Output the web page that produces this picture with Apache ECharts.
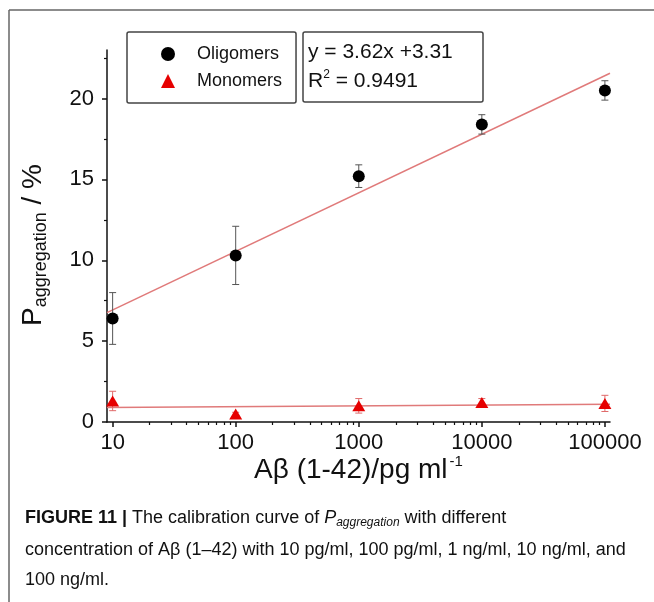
<!DOCTYPE html>
<html>
<head>
<meta charset="utf-8">
<script src="https://cdn.jsdelivr.net/npm/echarts@6/dist/echarts.min.js"></script>
<style>
  html, body { margin: 0; padding: 0; background: #fff; }
  #chart { width: 654px; height: 602px; }
</style>
</head>
<body>
<div id="chart"></div>
<script>
// Aβ (1-42) concentrations in pg/ml
const concentrations = [10, 100, 1000, 10000, 100000];

// P_aggregation (%) with standard deviations
const oligomerMean = [6.4, 10.3, 15.2, 18.4, 20.5];
const oligomerErr  = [1.6, 1.8, 0.7, 0.6, 0.6];
const monomerMean  = [1.3, 0.5, 1.0, 1.2, 1.15];
const monomerErr   = [0.6, 0.1, 0.45, 0.25, 0.5];

// Linear fit of oligomers against log10(concentration)
const fitSlope = 3.62;
const fitIntercept = 3.31;
const fitR2 = '0.9491';
// Monomer trend line, values at the two ends of the axis
const monomerFitEnds = [0.9, 1.1];

// Axis ranges and ticks
const xMin = 9, xMax = 110000;
const yMin = 0, yMax = 23;
const xMajorTicks = [10, 100, 1000, 10000, 100000];
const xMinorTicks = [20, 30, 40, 50, 60, 70, 80, 90,
                     200, 300, 400, 500, 600, 700, 800, 900,
                     2000, 3000, 4000, 5000, 6000, 7000, 8000, 9000,
                     20000, 30000, 40000, 50000, 60000, 70000, 80000, 90000];
const yMajorTicks = [0, 5, 10, 15, 20];
const yMinorTicks = [2.5, 7.5, 12.5, 17.5, 22.5];

const FONT = '"Liberation Sans", Arial, Helvetica, sans-serif';
const INK = '#111';

const chart = echarts.init(document.getElementById('chart'), null, { renderer: 'canvas' });

function errorBars(capHalf, color) {
  return function (params, api) {
    const x = api.value(0);
    const top = api.coord([x, api.value(2)]);
    const bot = api.coord([x, api.value(1)]);
    const st = { stroke: color, lineWidth: 1 };
    return {
      type: 'group',
      children: [
        { type: 'line', shape: { x1: top[0], y1: top[1], x2: bot[0], y2: bot[1] }, style: st },
        { type: 'line', shape: { x1: top[0] - capHalf, y1: top[1], x2: top[0] + capHalf, y2: top[1] }, style: st },
        { type: 'line', shape: { x1: bot[0] - capHalf, y1: bot[1], x2: bot[0] + capHalf, y2: bot[1] }, style: st }
      ]
    };
  };
}

const oligomerPoints = concentrations.map((c, i) => [c, oligomerMean[i]]);
const monomerPoints = concentrations.map((c, i) => [c, monomerMean[i]]);
const oligomerBars = concentrations.map((c, i) => [c, oligomerMean[i] - oligomerErr[i], oligomerMean[i] + oligomerErr[i]]);
const monomerBars = concentrations.map((c, i) => [c, monomerMean[i] - monomerErr[i], monomerMean[i] + monomerErr[i]]);
const oligomerFit = [xMin, xMax].map(c => [c, fitSlope * Math.log10(c) + fitIntercept]);
const monomerFit = [[xMin, monomerFitEnds[0]], [xMax, monomerFitEnds[1]]];

const axisLine = { show: true, onZero: false, lineStyle: { color: INK, width: 1.5 } };

const option = {
  animation: false,
  backgroundColor: '#fff',
  grid: { left: 107, right: 44, top: 50, bottom: 180, outerBoundsMode: 'none' },
  legend: {
    data: ['Oligomers', 'Monomers'],
    orient: 'vertical',
    left: 127, top: 32,
    padding: [13, 14, 13, 34],
    itemWidth: 14, itemHeight: 14, itemGap: 9,
    borderColor: '#444', borderWidth: 1.5, borderRadius: 2,
    selectedMode: false,
    formatter: '{t|{name}}',
    textStyle: {
      color: INK, fontFamily: FONT, fontSize: 18,
      rich: { t: { fontFamily: FONT, fontSize: 18, color: INK, padding: [0, 0, 0, 17] } }
    }
  },
  xAxis: [{
    type: 'log', min: xMin, max: xMax, position: 'bottom',
    axisLine: axisLine,
    axisTick: { show: true, customValues: xMajorTicks, length: 5, lineStyle: { color: INK, width: 1.5 } },
    axisLabel: {
      customValues: xMajorTicks, color: INK, fontFamily: FONT, fontSize: 22, margin: 10,
      formatter: v => String(Math.round(v))
    },
    splitLine: { show: false },
    name: '{n|Aβ (1-42)/pg ml}{s|-1}',
    nameLocation: 'middle', nameGap: 32, nameMoveOverlap: false,
    nameTextStyle: {
      color: INK,
      rich: {
        n: { fontFamily: FONT, fontSize: 28, color: INK, lineHeight: 32 },
        s: { fontFamily: FONT, fontSize: 15, color: INK, lineHeight: 15, verticalAlign: 'top', padding: [0, 0, 0, 2] }
      }
    }
  }, {
    type: 'log', min: xMin, max: xMax, position: 'bottom',
    axisLine: { show: false },
    axisTick: { show: true, customValues: xMinorTicks, length: 3, lineStyle: { color: INK, width: 1.2 } },
    axisLabel: { show: false },
    splitLine: { show: false }
  }],
  yAxis: [{
    type: 'value', min: yMin, max: yMax, position: 'left',
    axisLine: axisLine,
    axisTick: { show: true, customValues: yMajorTicks, length: 5, lineStyle: { color: INK, width: 1.5 } },
    axisLabel: { customValues: yMajorTicks, color: INK, fontFamily: FONT, fontSize: 22, margin: 13 },
    splitLine: { show: false },
    name: '{p|P}{s|aggregation}{p| / %}',
    nameLocation: 'middle', nameRotate: 90, nameGap: 57, nameMoveOverlap: false,
    nameTextStyle: {
      color: INK,
      padding: [0, 18, 0, 0],
      rich: {
        p: { fontFamily: FONT, fontSize: 28, color: INK, lineHeight: 34 },
        s: { fontFamily: FONT, fontSize: 18, color: INK, lineHeight: 18, verticalAlign: 'bottom' }
      }
    }
  }, {
    type: 'value', min: yMin, max: yMax, position: 'left',
    axisLine: { show: false },
    axisTick: { show: true, customValues: yMinorTicks, length: 3, lineStyle: { color: INK, width: 1.2 } },
    axisLabel: { show: false },
    splitLine: { show: false }
  }],
  series: [
    {
      name: 'Oligomer fit', type: 'line', data: oligomerFit, symbol: 'none', silent: true,
      lineStyle: { color: '#e07a7a', width: 1.5 }, z: 1
    },
    {
      name: 'Monomer fit', type: 'line', data: monomerFit, symbol: 'none', silent: true,
      lineStyle: { color: '#e07a7a', width: 1.5 }, z: 1
    },
    {
      name: 'Oligomer SD', type: 'custom', data: oligomerBars,
      encode: { x: 0, y: [1, 2] }, renderItem: errorBars(3.5, '#555'), z: 2
    },
    {
      name: 'Monomer SD', type: 'custom', data: monomerBars,
      encode: { x: 0, y: [1, 2] }, renderItem: errorBars(3.5, '#e06a6a'), z: 2
    },
    {
      name: 'Oligomers', type: 'scatter', data: oligomerPoints,
      symbol: 'circle', symbolSize: 12, itemStyle: { color: '#000', opacity: 1 }, z: 3
    },
    {
      name: 'Monomers', type: 'scatter', data: monomerPoints,
      symbol: 'triangle', symbolSize: [13, 11], itemStyle: { color: '#e60000', opacity: 1 }, z: 3
    }
  ],
  graphic: [
    // page frame
    { type: 'line', shape: { x1: 9, y1: 10, x2: 654, y2: 10 }, style: { stroke: '#666', lineWidth: 1.5 } },
    { type: 'line', shape: { x1: 9, y1: 10, x2: 9, y2: 602 }, style: { stroke: '#666', lineWidth: 1.5 } },
    // fit equation box
    { type: 'rect', shape: { x: 303, y: 32, width: 180, height: 70, r: 2 }, style: { fill: '#fff', stroke: '#444', lineWidth: 1.5 }, z: 10 },
    {
      type: 'text', x: 308, y: 52, z: 11,
      style: { text: 'y = ' + fitSlope + 'x +' + fitIntercept, font: '21px ' + FONT, fill: INK, verticalAlign: 'middle' }
    },
    {
      type: 'text', x: 308, y: 81, z: 11,
      style: {
        text: '{r|R}{s|2}{r| = ' + fitR2 + '}', verticalAlign: 'middle',
        rich: {
          r: { fontFamily: FONT, fontSize: 21, fill: INK, lineHeight: 24 },
          s: { fontFamily: FONT, fontSize: 12, fill: INK, lineHeight: 12, verticalAlign: 'top' }
        }
      }
    },
    // caption
    {
      type: 'text', x: 25, y: 518,
      style: {
        text: '{b|FIGURE 11 }{b||}{r| The calibration curve of }{i|P}{sub|aggregation}{r| with different}',
        verticalAlign: 'middle',
        rich: {
          b: { fontFamily: FONT, fontSize: 18, fontWeight: 'bold', fill: INK, lineHeight: 22 },
          r: { fontFamily: FONT, fontSize: 18, fill: INK, lineHeight: 22 },
          i: { fontFamily: FONT, fontSize: 18, fontStyle: 'italic', fill: INK, lineHeight: 22 },
          sub: { fontFamily: FONT, fontSize: 12, fontStyle: 'italic', fill: INK, lineHeight: 12, verticalAlign: 'bottom' }
        }
      }
    },
    {
      type: 'text', x: 25, y: 550,
      style: { text: 'concentration of Aβ (1–42) with 10 pg/ml, 100 pg/ml, 1 ng/ml, 10 ng/ml, and', font: '18px ' + FONT, fill: INK, verticalAlign: 'middle' }
    },
    {
      type: 'text', x: 25, y: 580,
      style: { text: '100 ng/ml.', font: '18px ' + FONT, fill: INK, verticalAlign: 'middle' }
    }
  ]
};

chart.setOption(option);
</script>
</body>
</html>
